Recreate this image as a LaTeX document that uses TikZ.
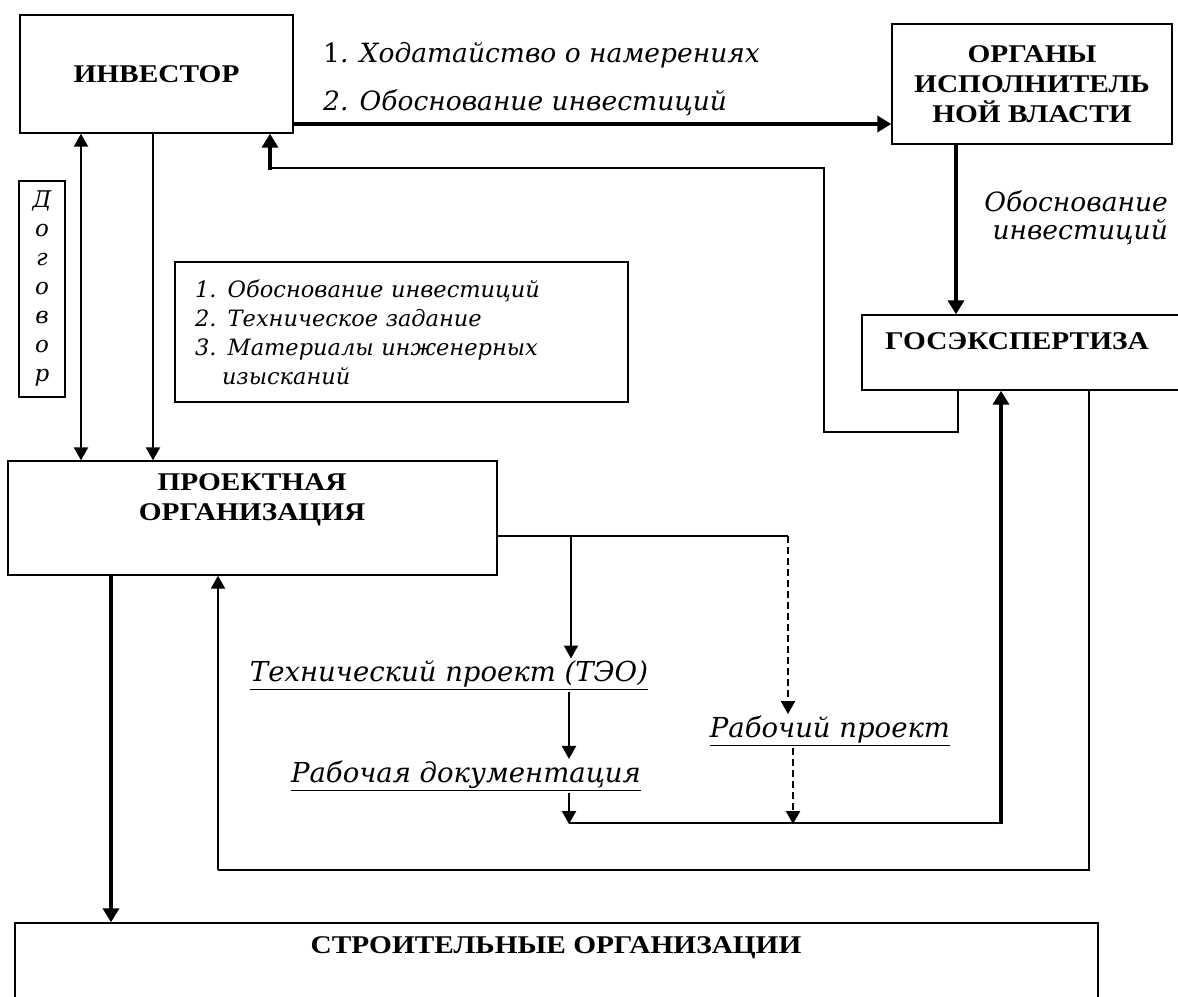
\documentclass[tikz,border=0pt]{standalone}
\usepackage{fontspec}
\setmainfont{Liberation Serif}
\newfontfamily\capsfont[FakeStretch=1.15]{Liberation Serif}
\newfontfamily\handfont{DejaVu Serif}
\usepackage{tikz}
\usetikzlibrary{arrows.meta,positioning}

\begin{document}
\begin{tikzpicture}[x=1pt,y=-1pt,
    box/.style={draw,line width=1.4pt,inner sep=0pt},
    caps/.style={font=\capsfont\bfseries\fontsize{25.5}{30}\selectfont,align=center,inner sep=0pt},
    hand/.style={font=\handfont\itshape\fontsize{26.5}{28}\selectfont,inner sep=2pt},
    lnk/.style={line width=1.4pt},
    mid/.style={line width=2.2pt,-{Triangle[width=14pt,length=13pt]}},
    fat/.style={line width=3.6pt,-{Triangle[width=16pt,length=14pt]}},
    dash7/.style={dash pattern=on 7pt off 4pt}]
    \useasboundingbox (0,0) rectangle (1178,996);
    \node[box,caps,minimum width=273pt,minimum height=118pt] (inv) at (156.5,74) {ИНВЕСТОР};
    \node[box,caps,minimum width=280pt,minimum height=120pt] (org) at (1032,84) {ОРГАНЫ\\ИСПОЛНИТЕЛЬ\\НОЙ ВЛАСТИ};
    \node[box,minimum width=333pt,minimum height=75pt] (gos) at (1028.5,352.5) {};
    \node[caps] (gostxt) at (1017,341) {ГОСЭКСПЕРТИЗА};
    \node[box,hand,align=center,inner sep=0pt,minimum width=46pt,minimum height=216pt,
        font=\handfont\itshape\fontsize{23}{29}\selectfont] (dog) at (42,289) {Д\\о\\г\\о\\в\\о\\р};
    \node[box,align=left,minimum width=453pt,minimum height=140pt,text width=413pt,inner xsep=20pt,
        font=\handfont\itshape\fontsize{22.5}{29}\selectfont] (task) at (401.5,332)
        {1. Обоснование инвестиций\\2. Техническое задание\\3. Материалы инженерных\\\hspace*{27pt}изысканий};
    \node[box,minimum width=489pt,minimum height=114pt] (proj) at (252.5,518) {};
    \node[caps] (projtxt) at (252,500) {ПРОЕКТНАЯ\\ОРГАНИЗАЦИЯ};
    \node[box,minimum width=1083pt,minimum height=90pt] (build) at (556.5,968) {};
    \node[caps] (buildtxt) at (556,948) {СТРОИТЕЛЬНЫЕ ОРГАНИЗАЦИИ};
    \node[hand,anchor=west] (req) at (321,55) {{\upshape 1}. Ходатайство о намерениях};
    \node[hand,anchor=west] (just) at (321,103) {2. Обоснование инвестиций};
    \node[hand,anchor=east,align=right] (justg) at (1170,218) {Обоснование\\инвестиций};
    \node[hand,font=\handfont\itshape\fontsize{27.5}{28}\selectfont] (teo) at (449,675) {\underline{Технический проект (ТЭО)}};
    \node[hand,font=\handfont\itshape\fontsize{27.5}{28}\selectfont] (rd) at (466,776) {\underline{Рабочая документация}};
    \node[hand,font=\handfont\itshape\fontsize{27.5}{28}\selectfont] (rp) at (830,731) {\underline{Рабочий проект}};
    \draw[fat] (inv.east |- 0,124) -- (org.west |- 0,124);
    \draw[fat] (org.south -| 956,0) -- (gos.north -| 956,0);
    \draw[lnk] (gos.south -| 958,0) -- (958,432) -- (824,432) -- (824,168) -- (270,168);
    \draw[fat] (270,169.5) -- (inv.south -| 270,0);
    \draw[mid,{Triangle[width=14pt,length=13pt]}-{Triangle[width=14pt,length=13pt]}] (inv.south -| 81,0) -- (proj.north -| 81,0);
    \draw[mid] (inv.south -| 153,0) -- (proj.north -| 153,0);
    \draw[lnk] (proj.east |- 0,536) -- (788,536);
    \draw[mid] (571,536) -- (teo.north -| 571,0);
    \draw[mid,dash7] (788,536) -- (rp.north -| 788,0);
    \draw[mid] (teo.south -| 569,0) -- (rd.north -| 569,0);
    \draw[mid] (rd.south -| 569,0) -- (569,824);
    \draw[mid,dash7] (rp.south -| 793,0) -- (793,824);
    \draw[lnk] (569,823) -- (1001,823);
    \draw[fat] (1001,824) -- (gos.south -| 1001,0);
    \draw[lnk] (gos.south -| 1089,0) -- (1089,870) -- (218,870);
    \draw[mid] (218,870) -- (proj.south -| 218,0);
    \draw[fat] (proj.south -| 111,0) -- (build.north -| 111,0);
\end{tikzpicture}
\end{document}
